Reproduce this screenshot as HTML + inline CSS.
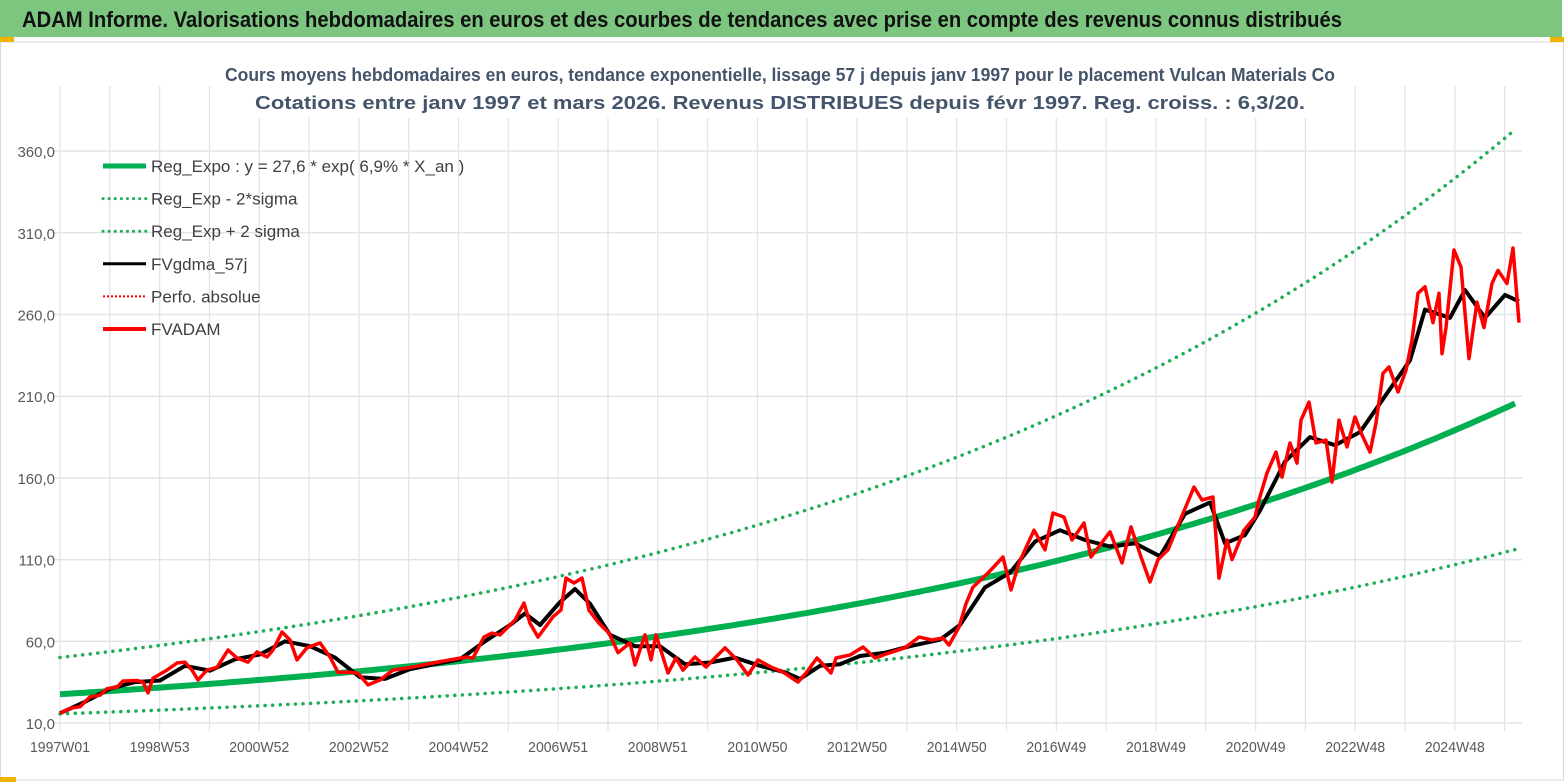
<!DOCTYPE html>
<html><head><meta charset="utf-8"><style>
html,body{margin:0;padding:0;background:#fff;width:1567px;height:783px;overflow:hidden}
svg{display:block;font-family:"Liberation Sans",sans-serif}
</style></head><body>
<svg id="chart" width="1567" height="783" viewBox="0 0 1567 783" xmlns="http://www.w3.org/2000/svg">
<rect x="0" y="0" width="1562" height="37" fill="#7dc67f"/>
<text x="22" y="27" font-size="22" font-weight="bold" fill="#111" textLength="1320" lengthAdjust="spacingAndGlyphs">ADAM Informe. Valorisations hebdomadaires en euros et des courbes de tendances avec prise en compte des revenus connus distribués</text>
<rect x="0.5" y="42" width="1563" height="738" fill="none" stroke="#d9d9d9"/>
<rect x="0" y="37" width="14" height="5" fill="#f0b400"/>
<rect x="1550" y="37" width="14" height="5" fill="#f0b400"/>
<rect x="0" y="777" width="16" height="5" fill="#f0b400"/>
<g id="grid"></g>
<text x="780" y="81" text-anchor="middle" font-size="18" font-weight="bold" fill="#44546a" textLength="1110" lengthAdjust="spacingAndGlyphs">Cours moyens hebdomadaires en euros, tendance exponentielle, lissage 57 j depuis janv 1997 pour le placement Vulcan Materials Co</text>
<text x="780" y="109" text-anchor="middle" font-size="18" font-weight="bold" fill="#44546a" textLength="1050" lengthAdjust="spacingAndGlyphs">Cotations entre janv 1997 et mars 2026. Revenus DISTRIBUES depuis févr 1997. Reg. croiss. : 6,3/20.</text>
<g id="series"></g>
<g id="legend"></g>
</svg>
<script>
// ---- data ----
const yTicks = [10,60,110,160,210,260,310,360];
const yTickLabels = ["10,0","60,0","110,0","160,0","210,0","260,0","310,0","360,0"];
const xTickWeeks = [0,104,208,312,416,520,624,728,832,936,1040,1144,1248,1352,1456];
const xTickLabels = ["1997W01","1998W53","2000W52","2002W52","2004W52","2006W51","2008W51","2010W50","2012W50","2014W50","2016W49","2018W49","2020W49","2022W48","2024W48"];
const trendA = 27.6, trendRate = 0.069, endYear = 2026.18;
const upperFactor = 1.815, lowerFactor = 0.565;
const redYears = [1997.0,1997.2,1997.4,1997.6,1997.8,1997.94,1998.14,1998.26,1998.54,1998.66,1998.76,1998.86,1999.14,1999.34,1999.5,1999.64,1999.76,1999.94,2000.14,2000.36,2000.54,2000.76,2000.94,2001.14,2001.26,2001.44,2001.6,2001.74,2001.94,2002.2,2002.4,2002.56,2002.8,2002.96,2003.16,2003.4,2003.66,2004.06,2004.46,2004.8,2005.14,2005.26,2005.48,2005.64,2005.8,2006.1,2006.28,2006.4,2006.56,2006.86,2007.02,2007.12,2007.28,2007.44,2007.58,2007.78,2007.98,2008.16,2008.4,2008.5,2008.7,2008.82,2008.92,2009.16,2009.32,2009.46,2009.7,2009.92,2010.3,2010.54,2010.76,2010.96,2011.22,2011.46,2011.76,2011.92,2012.14,2012.42,2012.52,2012.8,2013.06,2013.3,2013.6,2013.9,2014.18,2014.44,2014.66,2014.78,2014.98,2015.12,2015.26,2015.56,2015.86,2016.02,2016.18,2016.48,2016.7,2016.86,2017.08,2017.24,2017.48,2017.62,2018.0,2018.24,2018.42,2018.62,2018.8,2018.96,2019.16,2019.38,2019.68,2019.84,2020.06,2020.18,2020.34,2020.44,2020.68,2020.9,2020.98,2021.14,2021.32,2021.44,2021.6,2021.74,2021.82,2021.98,2022.12,2022.32,2022.44,2022.58,2022.74,2022.9,2023.04,2023.2,2023.32,2023.46,2023.58,2023.76,2023.92,2024.04,2024.16,2024.3,2024.46,2024.58,2024.64,2024.72,2024.88,2025.02,2025.18,2025.34,2025.48,2025.64,2025.76,2025.94,2026.06,2026.18];
const redValues = [15.9,19,20,26,27,31,32,35.7,36,35,28.4,37.5,42.4,46.7,47.3,42.4,36.3,42.4,44,54.7,49.8,47.3,53.5,50.4,54.7,65.7,60.8,48.6,56,59,50.4,41,41,40.5,33.3,36.3,42.4,44.3,46.7,48.6,50.4,49.8,62.6,65,63.9,73,83.4,71,62.6,75,79.2,98.7,95.7,98.7,79,71,65,53,59,45.5,64,48.6,64,40.6,49.8,42.4,50.4,44.3,56,48.6,39.4,48.6,44.3,41.2,35,40.6,49.8,40.6,49.8,51.6,56.5,49.8,53,56,62.6,60.8,62,57.7,68.7,83,93.2,101.8,111.6,91.4,107.9,128,116,138.5,136,122,132.4,111.6,127,108,130,111.6,96.3,110,116,132.4,154.4,146.5,148.3,98.7,122,110,128,136,146.5,163,175.8,160.5,181.4,169,195.4,206.4,181.4,183.2,157.5,195.4,179,197.3,186.3,175.8,193.6,224,227.9,212.6,226,244.4,273,277,255,273,236,252,299.5,289,233,267.6,252,279,287,279,300.7,255];
const smoothYears = [1997,1997.5,1998,1998.5,1999,1999.5,2000,2000.5,2001,2001.5,2002,2002.5,2003,2003.5,2004,2004.5,2005,2005.5,2006,2006.3,2006.6,2007,2007.3,2007.6,2008,2008.5,2009,2009.5,2010,2010.5,2011,2011.5,2011.8,2012.2,2012.6,2013,2013.5,2014,2014.6,2015,2015.5,2016,2016.5,2017,2017.5,2018,2018.5,2019,2019.5,2020,2020.3,2020.7,2021,2021.5,2022,2022.5,2023,2023.5,2024,2024.3,2024.8,2025.1,2025.5,2025.9,2026.18];
const smoothValues = [16,23,31,35,36,45,42,49,52,60,57,50,38,37,43,46,49,60,70,77,70,84,92,83,64,57,57,46,47,50,45,41,37,45,46,51,53,57,61,70,93,102,121,128,122,118,120,112,138,145,120,125,140,170,185,180,188,210,232,263,258,275,258,272,268];
const legendLabels = ["Reg_Expo : y = 27,6 * exp( 6,9% *  X_an )","Reg_Exp - 2*sigma","Reg_Exp + 2 sigma","FVgdma_57j","Perfo. absolue","FVADAM"];

// ---- axes ----
const NS = "http://www.w3.org/2000/svg";
const X0 = 60, PXW = 0.958, PXY = 50.0;
const xw = w => X0 + w * PXW;
const xy = yr => X0 + (yr - 1997) * PXY;
const yv = v => 723 - (v - 10) * 81.7 / 50;
function mk(tag, attrs, parent){const e=document.createElementNS(NS,tag);for(const k in attrs)e.setAttribute(k,attrs[k]);parent.appendChild(e);return e;}
const grid = document.getElementById('grid');
for (let w = 0; w <= 1530; w += 52) {
  const x = xw(w);
  const top = (x < 220 || x > 1340) ? 86 : 118;
  const l = mk('line',{x1:x,x2:x,y1:top,y2:731,stroke:'#e1e4ea','stroke-width':1.3},grid);
  
  
}
yTicks.forEach((v,i)=>{
  const l = mk('line',{x1:X0-6,x2:1522,y1:yv(v),y2:yv(v),stroke:'#e1e4ea','stroke-width':1.5},grid);
  
  
  const t = mk('text',{x:55,y:yv(v)+6,'text-anchor':'end','font-size':15,fill:'#595959'},grid);
  t.textContent = yTickLabels[i];
  
  
});
xTickWeeks.forEach((w,i)=>{
  const t = mk('text',{x:xw(w),y:752,'text-anchor':'middle','font-size':15,fill:'#595959',textLength:60,lengthAdjust:'spacingAndGlyphs'},grid);
  t.textContent = xTickLabels[i];
  
  
});

// ---- series ----
const S = document.getElementById('series');
function curve(factor){const p=[];for(let yr=1997;yr<=endYear+0.001;yr+=0.1){const t=Math.min(yr,endYear)-1997;p.push(xy(1997+t).toFixed(1)+','+yv(trendA*Math.exp(trendRate*t)*factor).toFixed(1));}return p.join(' ');}
function poly(xs,vs){return xs.map((yr,i)=>xy(yr).toFixed(1)+','+yv(vs[i]).toFixed(1)).join(' ');}
let e;
e = mk('polyline',{points:curve(upperFactor),fill:'none',stroke:'#1fae55','stroke-width':3.5,'stroke-dasharray':'0.1 7.5','stroke-linecap':'round'},S);


e = mk('polyline',{points:curve(lowerFactor),fill:'none',stroke:'#1fae55','stroke-width':3.5,'stroke-dasharray':'0.1 7.5','stroke-linecap':'round'},S);


e = mk('polyline',{points:curve(1),fill:'none',stroke:'#00b050','stroke-width':6},S);


e = mk('polyline',{points:poly(smoothYears,smoothValues),fill:'none',stroke:'#000','stroke-width':4,'stroke-linejoin':'round'},S);


e = mk('polyline',{points:poly(redYears,redValues),fill:'none',stroke:'#ff0000','stroke-width':3.5,'stroke-linejoin':'round'},S);



// ---- legend ----
const L = document.getElementById('legend');
const styles = [
  {stroke:'#00b050',w:5,dash:null},
  {stroke:'#1fae55',w:3,dash:'0.1 6',cap:'round'},
  {stroke:'#1fae55',w:3,dash:'0.1 6',cap:'round'},
  {stroke:'#000',w:3,dash:null},
  {stroke:'#ff0000',w:2,dash:'2 2'},
  {stroke:'#ff0000',w:4,dash:null}
];
legendLabels.forEach((lab,i)=>{
  const y = 166 + i*32.6;
  const g = mk('g',{},L);
  
  
  const st = styles[i];
  const a = {x1:103,x2:146,y1:y,y2:y,stroke:st.stroke,'stroke-width':st.w};
  if (st.dash) a['stroke-dasharray']=st.dash;
  if (st.cap) a['stroke-linecap']=st.cap;
  mk('line',a,g);
  const t = mk('text',{x:151,y:y+6,'font-size':17,fill:'#404040'},g);
  t.textContent = lab;
});
</script>
</body></html>
